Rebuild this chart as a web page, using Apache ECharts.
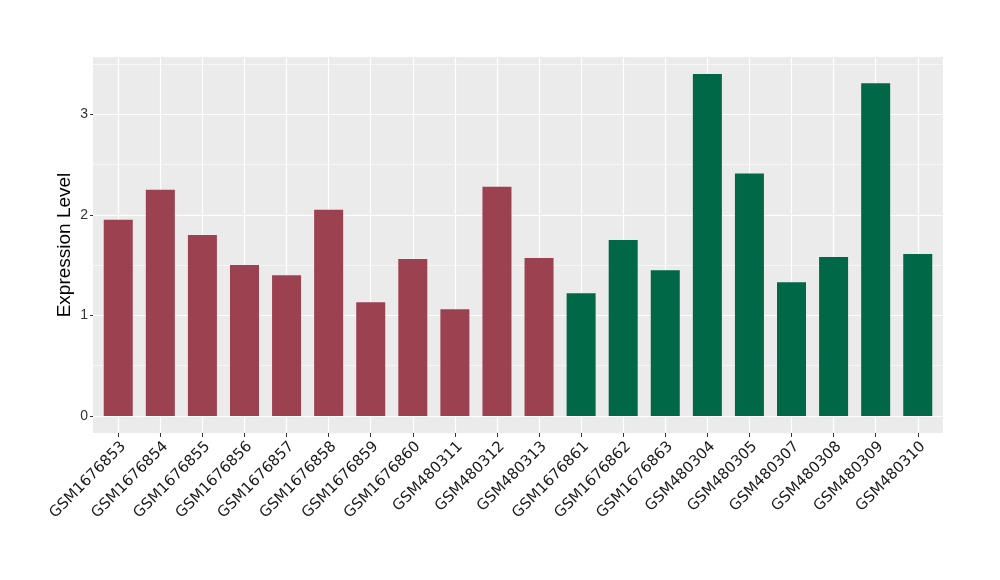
<!DOCTYPE html>
<html><head><meta charset="utf-8">
<script src="https://cdn.jsdelivr.net/npm/echarts@6/dist/echarts.min.js"></script>
<style>html,body{margin:0;padding:0;background:#fff}#c{width:1000px;height:580px}</style>
</head><body><div id="c"></div>
<script>
const categories = ["GSM1676853","GSM1676854","GSM1676855","GSM1676856","GSM1676857","GSM1676858","GSM1676859","GSM1676860","GSM480311","GSM480312","GSM480313","GSM1676861","GSM1676862","GSM1676863","GSM480304","GSM480305","GSM480307","GSM480308","GSM480309","GSM480310"];
const values = [1.95,2.25,1.80,1.50,1.40,2.05,1.13,1.56,1.06,2.28,1.57,1.22,1.75,1.45,3.40,2.41,1.33,1.58,3.31,1.61];
const groups = ["A","A","A","A","A","A","A","A","A","A","A","B","B","B","B","B","B","B","B","B"];
const groupColors = {A:"#9B4150", B:"#006747"};
const yTicks = [0,1,2,3];
const yMinor = [0.5,1.5,2.5,3.5];

const xIdx = categories.map((c,i)=>i);
const chart = echarts.init(document.getElementById('c'));
chart.setOption({
  backgroundColor:'#fff',
  animation:false,
  grid:{left:93,right:57,top:57,bottom:147,show:true,backgroundColor:'#EBEBEB',borderWidth:0},
  xAxis:{type:'value',min:-0.6,max:categories.length-1+0.6,
    axisLine:{show:false,onZero:false},
    axisTick:{show:true,customValues:xIdx,length:4,lineStyle:{color:'#333',width:1}},
    axisLabel:{customValues:xIdx,rotate:45,formatter:v=>categories[Math.round(v)],
      align:'right',verticalAlign:'top',
      fontFamily:'DejaVu Sans',fontSize:15,color:'#1a1a1a',margin:6},
    splitLine:{show:true,lineStyle:{color:'#fff',width:1.2}}},
  yAxis:[
    {type:'value',min:-0.17,max:3.57,
     axisLine:{show:false,onZero:false},
     axisTick:{show:true,customValues:yTicks,length:3,lineStyle:{color:'#333',width:1}},
     axisLabel:{customValues:yTicks,fontFamily:'Liberation Sans',fontSize:14,color:'#333',margin:5},
     splitLine:{show:true,lineStyle:{color:'#fff',width:1.2}},
     name:'Expression Level',nameLocation:'middle',nameGap:19,nameMoveOverlap:false,
     nameTextStyle:{fontFamily:'Liberation Sans',fontSize:19,color:'#000'}},
    {type:'value',min:-0.17,max:3.57,position:'left',
     axisLine:{show:false,onZero:false},axisTick:{show:false,customValues:yMinor},
     axisLabel:{show:false,customValues:yMinor},
     splitLine:{show:true,lineStyle:{color:'#fff',width:0.6}}}
  ],
  series:[{type:'bar',barWidth:29,
    data:values.map((v,i)=>({value:[i,v],itemStyle:{color:groupColors[groups[i]]}}))}]
});
</script></body></html>
